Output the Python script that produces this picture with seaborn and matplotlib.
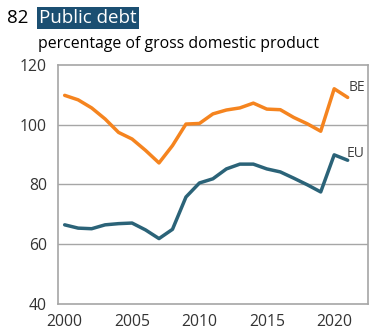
import numpy as np
import pandas as pd
import matplotlib
matplotlib.use("Agg")
import matplotlib.pyplot as plt
import seaborn as sns

# data
years = list(range(2000, 2022))
be = [109.8, 108.3, 105.6, 101.9, 97.4, 95.2, 91.4, 87.2, 93.0, 100.2, 100.4,
      103.6, 104.9, 105.6, 107.2, 105.2, 105.0, 102.4, 100.3, 97.8, 112.0, 109.1]
eu = [66.5, 65.4, 65.2, 66.5, 66.9, 67.1, 64.8, 61.9, 65.0, 75.8, 80.5,
      81.9, 85.2, 86.8, 86.8, 85.2, 84.2, 82.1, 79.9, 77.5, 89.9, 88.1]
series_names = ["BE", "EU"]
colors = {"BE": "#F5841F", "EU": "#2B6378"}

df = pd.DataFrame({"year": years, "BE": be, "EU": eu})
long_df = df.melt(id_vars="year", var_name="country", value_name="debt")

sns.set_style("white")
plt.rcParams["font.family"] = ["Open Sans", "DejaVu Sans"]

fig = plt.figure(figsize=(3.69, 3.36), dpi=100)
ax = fig.add_axes([0.157, 0.095, 0.84, 0.712])

sns.lineplot(data=long_df, x="year", y="debt", hue="country", palette=colors,
             linewidth=2.5, legend=False, ax=ax)

ax.set_xlim(1999.5, 2022.5)
ax.set_ylim(40, 120)
ax.set_yticks([40, 60, 80, 100, 120])
ax.set_xticks([2000, 2005, 2010, 2015, 2020])
ax.set_xticks(np.arange(1999.5, 2023, 1), minor=True)
ax.tick_params(axis="x", which="major", length=0, pad=7, labelsize=11.3, labelcolor="#333333")
ax.tick_params(axis="x", which="minor", length=5, width=1, color="#9a9a9a", direction="out")
ax.tick_params(axis="y", length=0, pad=8, labelsize=11.3, labelcolor="#333333")
ax.set_xlabel("")
ax.set_ylabel("")
for yv in [60, 80, 100]:
    ax.axhline(yv, color="#a6a6a6", linewidth=1, zorder=0)
for s in ax.spines.values():
    s.set_color("#a6a6a6")
    s.set_linewidth(1.2)

# series labels at end of lines
ax.text(2021.1, be[-1] + 3.2, "BE", fontsize=10, color="#404040", ha="left", va="center")
ax.text(2020.9, eu[-1] + 2.4, "EU", fontsize=10, color="#404040", ha="left", va="center")

# title block
fig.text(7 / 369, 1 - 18 / 336, "82", fontsize=13.5, color="black", ha="left", va="center")
fig.text(39 / 369, 1 - 18 / 336, "Public debt", fontsize=13.5, color="white", ha="left", va="center",
         bbox=dict(boxstyle="square,pad=0.12", facecolor="#1B4F72", edgecolor="none"))
fig.text(38 / 369, 1 - 44 / 336, "percentage of gross domestic product", fontsize=11.4,
         color="black", ha="left", va="center")

fig.savefig("out.png", dpi=100)
